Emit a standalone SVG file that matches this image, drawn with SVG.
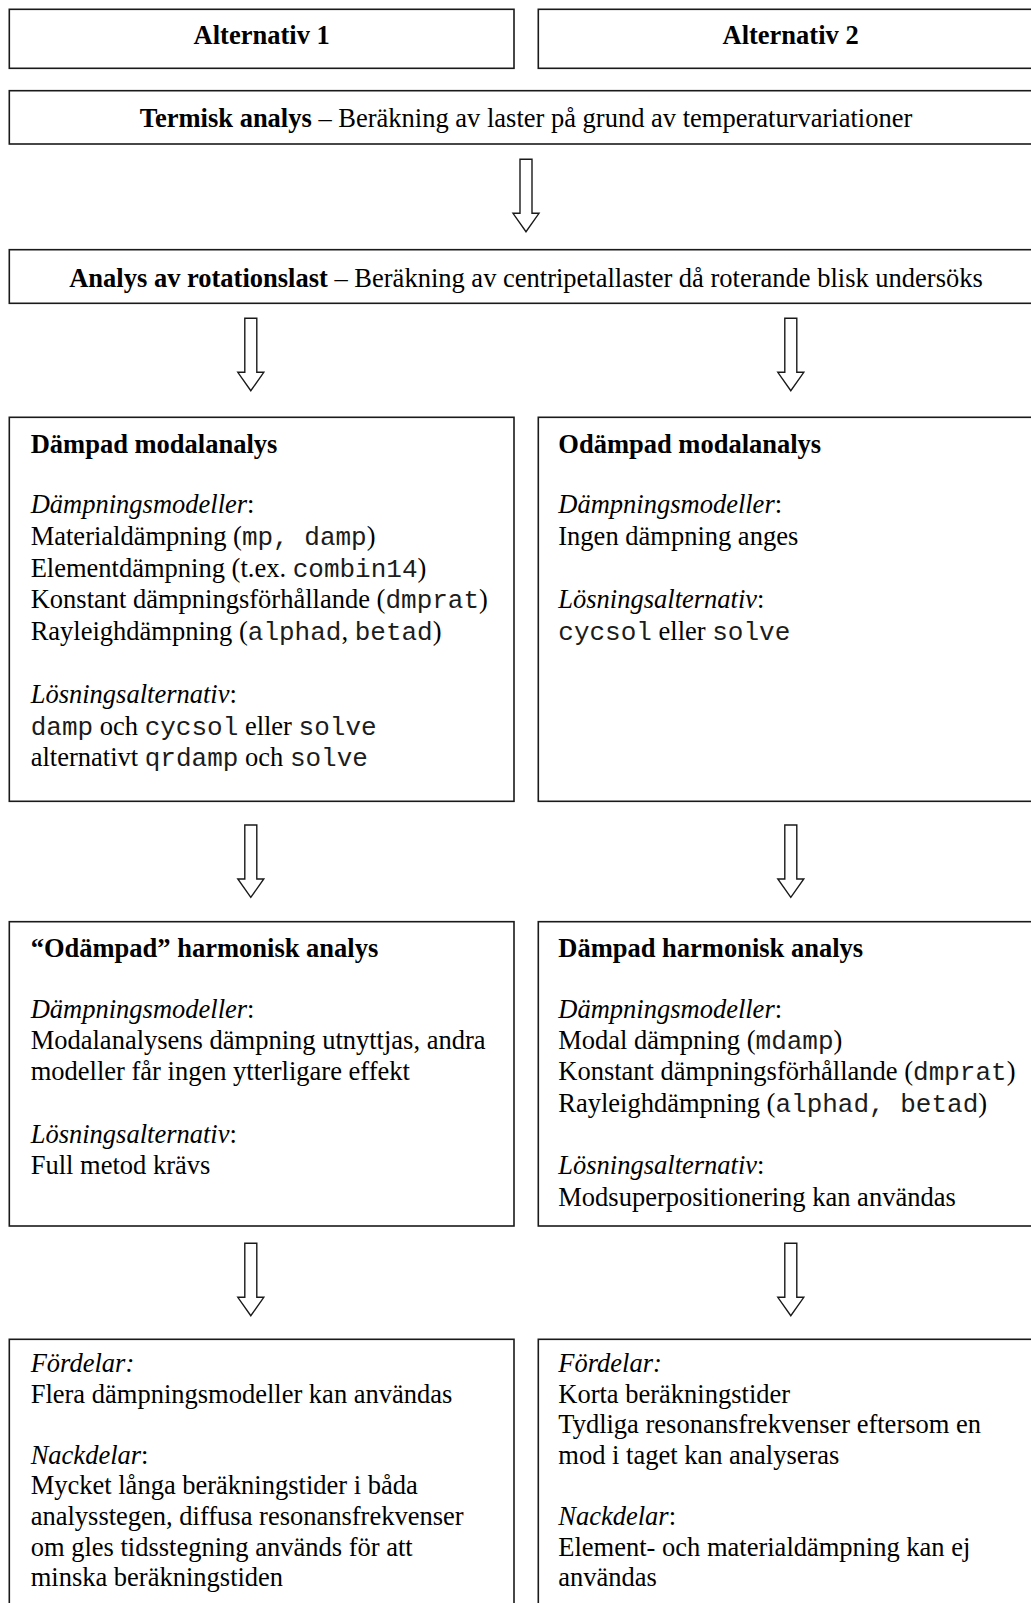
<svg xmlns="http://www.w3.org/2000/svg" width="1031" height="1603" viewBox="0 0 1031 1603">
<style>
.box{fill:#fff;stroke:#1a1a1a;stroke-width:1.6}
.arr{fill:#fff;stroke:#1a1a1a;stroke-width:1.4;stroke-linejoin:miter}
text{font-family:"Liberation Serif","Times New Roman",serif;font-size:26.5px;fill:#000}
.c{text-anchor:middle}
.bd{font-weight:bold}
.it{font-style:italic}
.m{font-family:"Liberation Mono","Courier New",monospace;font-size:26px;fill:#1c1c1c}
</style>
<rect width="1031" height="1603" fill="#fff"/>
<g id="connectors">
<polygon class="arr" points="520,159.3 532,159.3 532,213.3 539,213.3 526,231.7 513,213.3 520,213.3"/>
<polygon class="arr" points="244.8,318.3 256.8,318.3 256.8,372.3 263.8,372.3 250.8,390.7 237.8,372.3 244.8,372.3"/>
<polygon class="arr" points="784.8,318.3 796.8,318.3 796.8,372.3 803.8,372.3 790.8,390.7 777.8,372.3 784.8,372.3"/>
<polygon class="arr" points="244.8,825 256.8,825 256.8,879 263.8,879 250.8,897.4 237.8,879 244.8,879"/>
<polygon class="arr" points="784.8,825 796.8,825 796.8,879 803.8,879 790.8,897.4 777.8,879 784.8,879"/>
<polygon class="arr" points="244.8,1243.3 256.8,1243.3 256.8,1297.3 263.8,1297.3 250.8,1315.7 237.8,1297.3 244.8,1297.3"/>
<polygon class="arr" points="784.8,1243.3 796.8,1243.3 796.8,1297.3 803.8,1297.3 790.8,1315.7 777.8,1297.3 784.8,1297.3"/>
</g>
<g id="alt1">
<rect class="box" x="9.3" y="9.3" width="504.7" height="59"/>
<text class="c bd" x="261.7" y="44.3">Alternativ 1</text>
</g>
<g id="alt2">
<rect class="box" x="538.3" y="9.3" width="504.7" height="59"/>
<text class="c bd" x="790.6" y="44.3">Alternativ 2</text>
</g>
<g id="termisk">
<rect class="box" x="9.3" y="90.7" width="1033.7" height="53.3"/>
<text class="c" x="526" y="126.7"><tspan class="bd">Termisk analys</tspan> – Beräkning av laster på grund av temperaturvariationer</text>
</g>
<g id="rotation">
<rect class="box" x="9.3" y="249.7" width="1033.7" height="53.6"/>
<text class="c" x="526" y="286.7"><tspan class="bd">Analys av rotationslast</tspan> – Beräkning av centripetallaster då roterande blisk undersöks</text>
</g>
<g id="dampad-modal">
<rect class="box" x="9.3" y="417.3" width="504.7" height="384"/>
<text class="bd" x="30.7" y="452.5">Dämpad modalanalys</text>
<text x="30.7" y="513.3"><tspan class="it">Dämpningsmodeller</tspan>:</text>
<text x="30.7" y="544.9">Materialdämpning (<tspan class="m">mp, damp</tspan>)</text>
<text x="30.7" y="576.5">Elementdämpning (t.ex. <tspan class="m">combin14</tspan>)</text>
<text x="30.7" y="608.1">Konstant dämpningsförhållande (<tspan class="m">dmprat</tspan>)</text>
<text x="30.7" y="639.7">Rayleighdämpning (<tspan class="m">alphad</tspan>, <tspan class="m">betad</tspan>)</text>
<text x="30.7" y="702.9"><tspan class="it">Lösningsalternativ</tspan>:</text>
<text x="30.7" y="734.5"><tspan class="m">damp</tspan> och <tspan class="m">cycsol</tspan> eller <tspan class="m">solve</tspan></text>
<text x="30.7" y="766.1">alternativt <tspan class="m">qrdamp</tspan> och <tspan class="m">solve</tspan></text>
</g>
<g id="odampad-modal">
<rect class="box" x="538.3" y="417.3" width="504.7" height="384"/>
<text class="bd" x="558.3" y="452.5">Odämpad modalanalys</text>
<text x="558.3" y="513.3"><tspan class="it">Dämpningsmodeller</tspan>:</text>
<text x="558.3" y="544.9">Ingen dämpning anges</text>
<text x="558.3" y="608.1"><tspan class="it">Lösningsalternativ</tspan>:</text>
<text x="558.3" y="639.7"><tspan class="m">cycsol</tspan> eller <tspan class="m">solve</tspan></text>
</g>
<g id="odampad-harmonisk">
<rect class="box" x="9.3" y="921.7" width="504.7" height="304.3"/>
<text class="bd" x="30.7" y="956.7">“Odämpad” harmonisk analys</text>
<text x="30.7" y="1017.7"><tspan class="it">Dämpningsmodeller</tspan>:</text>
<text x="30.7" y="1049">Modalanalysens dämpning utnyttjas, andra</text>
<text x="30.7" y="1080.3">modeller får ingen ytterligare effekt</text>
<text x="30.7" y="1142.9"><tspan class="it">Lösningsalternativ</tspan>:</text>
<text x="30.7" y="1174.2">Full metod krävs</text>
</g>
<g id="dampad-harmonisk">
<rect class="box" x="538.3" y="921.7" width="504.7" height="304.3"/>
<text class="bd" x="558.3" y="956.7">Dämpad harmonisk analys</text>
<text x="558.3" y="1017.7"><tspan class="it">Dämpningsmodeller</tspan>:</text>
<text x="558.3" y="1049">Modal dämpning (<tspan class="m">mdamp</tspan>)</text>
<text x="558.3" y="1080.3">Konstant dämpningsförhållande (<tspan class="m">dmprat</tspan>)</text>
<text x="558.3" y="1111.6">Rayleighdämpning (<tspan class="m">alphad, betad</tspan>)</text>
<text x="558.3" y="1174.2"><tspan class="it">Lösningsalternativ</tspan>:</text>
<text x="558.3" y="1205.5">Modsuperpositionering kan användas</text>
</g>
<g id="resultat-1">
<rect class="box" x="9.3" y="1339.3" width="504.7" height="290"/>
<text class="it" x="30.7" y="1372">Fördelar:</text>
<text x="30.7" y="1402.6">Flera dämpningsmodeller kan användas</text>
<text x="30.7" y="1463.8"><tspan class="it">Nackdelar</tspan>:</text>
<text x="30.7" y="1494.4">Mycket långa beräkningstider i båda</text>
<text x="30.7" y="1525">analysstegen, diffusa resonansfrekvenser</text>
<text x="30.7" y="1555.6">om gles tidsstegning används för att</text>
<text x="30.7" y="1586.2">minska beräkningstiden</text>
</g>
<g id="resultat-2">
<rect class="box" x="538.3" y="1339.3" width="504.7" height="290"/>
<text class="it" x="558.3" y="1372">Fördelar:</text>
<text x="558.3" y="1402.6">Korta beräkningstider</text>
<text x="558.3" y="1433.2">Tydliga resonansfrekvenser eftersom en</text>
<text x="558.3" y="1463.8">mod i taget kan analyseras</text>
<text x="558.3" y="1525"><tspan class="it">Nackdelar</tspan>:</text>
<text x="558.3" y="1555.6">Element- och materialdämpning kan ej</text>
<text x="558.3" y="1586.2">användas</text>
</g>
</svg>
